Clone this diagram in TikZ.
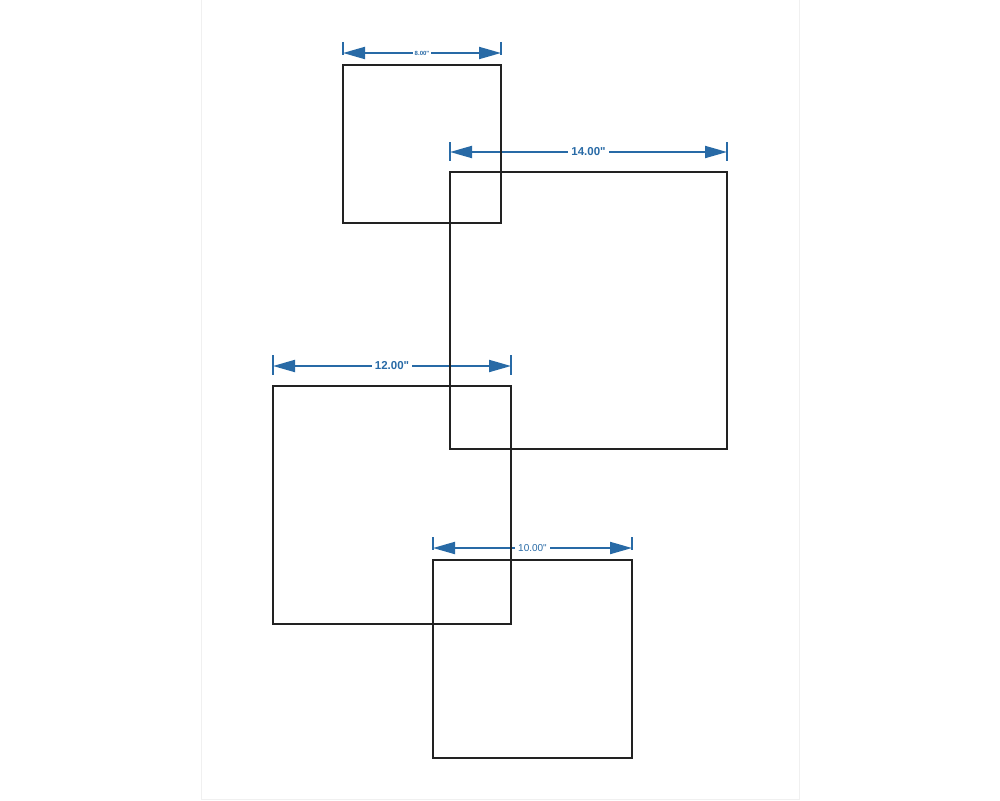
\documentclass[tikz,border=0pt]{standalone}
\usepackage{fontspec}
\setmainfont{Liberation Sans}
\usetikzlibrary{arrows.meta, positioning, backgrounds}
\definecolor{dimblue}{RGB}{40,106,166}
\definecolor{panelgray}{RGB}{34,34,34}

\begin{document}
\begin{tikzpicture}[x=1pt, y=-1pt,
			panel/.style={draw=panelgray, line width=2.5pt, rectangle, outer sep=0pt, inner sep=0pt, anchor=north west},
			dimline/.style={draw=dimblue, line width=2pt, {Triangle[length=22pt, width=12pt]}-{Triangle[length=22pt, width=12pt]}},
			dimtick/.style={draw=dimblue, line width=2pt},
			dimlabel/.style={fill=white, text=dimblue, inner sep=3pt, font=\fontsize{11.5}{12}\selectfont\bfseries}]
			
			% Fondo e bordo della pagina
			\useasboundingbox (0,0) rectangle (1000,800);
			\draw[gray!12, line width=1pt] (201,0) rectangle (799,799);
			
			% Pannelli quadrati
			\node[panel, minimum size=158pt] (p8) at (343,65) {};
			\node[panel, minimum size=277pt] (p14) at (450,172) {};
			\node[panel, minimum size=238pt] (p12) at (273,386) {};
			\node[panel, minimum width=199pt, minimum height=198pt] (p10) at (433,560) {};
			
			% --- Quote (sotto i pannelli) ---
			\begin{scope}[on background layer]
			% 8.00"
			\coordinate (a8) at ([yshift=12pt]p8.north west);
			\coordinate (b8) at ([yshift=12pt]p8.north east);
			\draw[dimtick] ([yshift=11pt]a8) -- ([yshift=-2pt]a8);
			\draw[dimtick] ([yshift=11pt]b8) -- ([yshift=-2pt]b8);
			\draw[dimline] (a8) -- node[dimlabel, inner sep=2pt, font=\fontsize{6}{7}\selectfont\bfseries]{8.00\textquotedbl} (b8);
			
			% 14.00"
			\coordinate (a14) at ([yshift=20pt]p14.north west);
			\coordinate (b14) at ([yshift=20pt]p14.north east);
			\draw[dimtick] ([yshift=10pt]a14) -- ([yshift=-9pt]a14);
			\draw[dimtick] ([yshift=10pt]b14) -- ([yshift=-9pt]b14);
			\draw[dimline] (a14) -- node[dimlabel]{14.00\textquotedbl} (b14);
			
			% 12.00"
			\coordinate (a12) at ([yshift=20pt]p12.north west);
			\coordinate (b12) at ([yshift=20pt]p12.north east);
			\draw[dimtick] ([yshift=11pt]a12) -- ([yshift=-9pt]a12);
			\draw[dimtick] ([yshift=11pt]b12) -- ([yshift=-9pt]b12);
			\draw[dimline] (a12) -- node[dimlabel]{12.00\textquotedbl} (b12);
			
			% 10.00"
			\coordinate (a10) at ([yshift=12pt]p10.north west);
			\coordinate (b10) at ([yshift=12pt]p10.north east);
			\draw[dimtick] ([yshift=11pt]a10) -- ([yshift=-2pt]a10);
			\draw[dimtick] ([yshift=11pt]b10) -- ([yshift=-2pt]b10);
			\draw[dimline] (a10) -- node[dimlabel, font=\fontsize{10}{11}\selectfont]{10.00\textquotedbl} (b10);
			\end{scope}
			
		\end{tikzpicture}
\end{document}
